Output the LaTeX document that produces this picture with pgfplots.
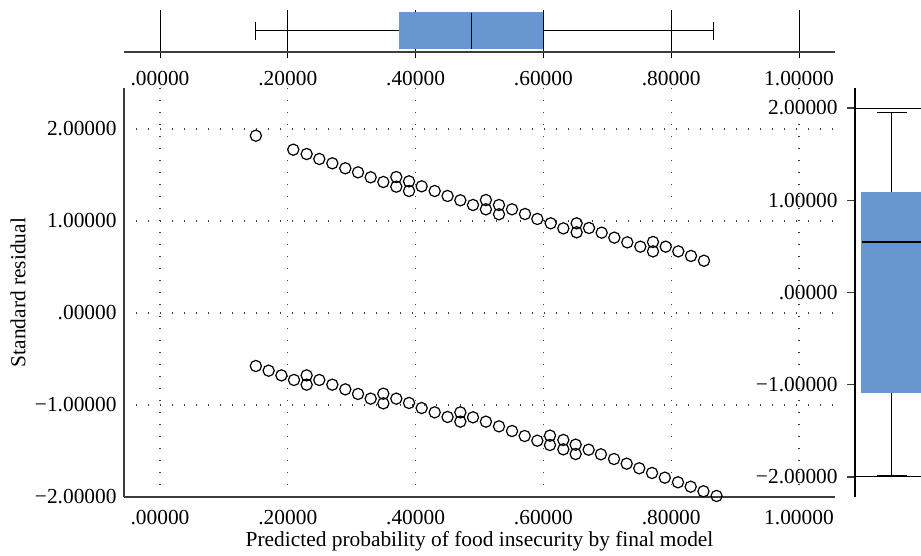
\documentclass[border=0pt]{standalone}
\usepackage{fontspec}
\setmainfont{Liberation Serif}
\usepackage{pgfplots}
\usepackage{pgfplotstable}
\pgfplotsset{compat=1.18}
\usepgfplotslibrary{statistics}
\definecolor{boxblue}{RGB}{104,151,208}
\definecolor{axgray}{RGB}{60,60,60}

\pgfplotstableread{
x y
0.150 1.927
0.2086 1.775
0.2295 1.728
0.2493 1.674
0.2697 1.627
0.290 1.573
0.3099 1.529
0.3297 1.475
0.3495 1.424
0.3698 1.478
0.3698 1.373
0.3897 1.431
0.3897 1.326
0.4095 1.377
0.4299 1.326
0.450 1.272
0.470 1.225
0.4898 1.174
0.510 1.228
0.510 1.127
0.5305 1.174
0.5305 1.073
0.5509 1.127
0.5712 1.076
0.5905 1.022
0.6114 0.975
0.6312 0.920
0.652 0.975
0.652 0.877
0.6714 0.924
0.6912 0.873
0.711 0.819
0.7313 0.768
0.7517 0.721
0.7715 0.772
0.7715 0.670
0.7914 0.721
0.8111 0.670
0.831 0.620
0.8513 0.568
}\upperdata

\pgfplotstableread{
x y
0.150 -0.576
0.170 -0.627
0.190 -0.678
0.2097 -0.728
0.2295 -0.678
0.2295 -0.779
0.2493 -0.728
0.2697 -0.779
0.290 -0.830
0.3099 -0.880
0.3297 -0.931
0.3495 -0.877
0.3495 -0.982
0.3698 -0.931
0.3897 -0.978
0.4095 -1.033
0.4299 -1.080
0.450 -1.130
0.470 -1.080
0.470 -1.181
0.4898 -1.134
0.510 -1.181
0.5305 -1.232
0.5509 -1.283
0.5707 -1.337
0.5905 -1.388
0.6103 -1.333
0.6103 -1.435
0.6312 -1.380
0.6312 -1.482
0.6505 -1.431
0.6505 -1.533
0.6708 -1.486
0.690 -1.536
0.7105 -1.587
0.7303 -1.638
0.750 -1.688
0.770 -1.739
0.790 -1.790
0.8106 -1.840
0.8305 -1.888
0.8505 -1.938
0.871 -1.989
}\lowerdata

\begin{document}
\begin{tikzpicture}[font=\fontsize{10.7}{12.5}\selectfont]
\useasboundingbox (0,0) rectangle (460.5pt,278pt);

% top boxplot of predicted probabilities
\begin{axis}[at={(62pt,252pt)}, anchor=south west, scale only axis,
  width=355.5pt, height=21pt,
  xmin=-0.05634, xmax=1.05634, ymin=0, ymax=1,
  axis x line*=bottom, axis y line=none,
  x axis line style={axgray, line width=0.75pt, -},
  xtick={0,0.2,0.4,0.6,0.8,1.0},
  xticklabels={.00000,.20000,.40000,.60000,.80000,1.00000},
  xmajorgrids, major grid style={black, line width=0.5pt},
  tick align=outside, major tick length=3pt,
  tick style={black, line width=0.5pt},
  xticklabel style={inner sep=0pt, anchor=north, yshift=-6.4pt},
  ytick=\empty, clip=false]
\addplot[black, line width=0.5pt, mark=none,
  boxplot prepared={lower whisker=0.150, lower quartile=0.375, median=0.487,
    upper quartile=0.598, upper whisker=0.866,
    draw position=0.5, box extend=0.857, whisker extend=0.43},
  boxplot/every box/.style={draw=boxblue, fill=boxblue},
  boxplot/every median/.style={draw=black, line width=0.7pt}] coordinates {};
\end{axis}

% main scatter
\begin{axis}[at={(62pt,29.5pt)}, anchor=south west, scale only axis,
  width=355.5pt, height=204.5pt,
  xmin=-0.05634, xmax=1.05634, ymin=-2, ymax=2.4457,
  axis x line*=bottom, axis y line*=left,
  axis line style={axgray, line width=0.65pt, -},
  xtick={0,0.2,0.4,0.6,0.8,1.0},
  xticklabels={.00000,.20000,.40000,.60000,.80000,1.00000},
  ytick={-2,-1,0,1,2},
  yticklabels={−2.00000,−1.00000,.00000,1.00000,2.00000},
  grid=major, major grid style={axgray, line width=0.55pt, dash pattern=on 0.55pt off 5.45pt},
  major tick length=0pt,
  xticklabel style={inner sep=0pt, anchor=north, yshift=-6.3pt},
  yticklabel style={inner sep=0pt, anchor=east, xshift=-3.5pt},
  xlabel={Predicted probability of food insecurity by final model},
  ylabel={Standard residual},
  xlabel style={at={(axis description cs:0.5,-0.1076)}, anchor=center},
  ylabel style={at={(axis description cs:-0.149,0.5)}, anchor=center},
  clip=false]
\addplot[only marks, mark=o, mark size=2.8pt, black, line width=0.6pt] table[x=x,y=y] {\upperdata};
\addplot[only marks, mark=o, mark size=2.8pt, black, line width=0.6pt] table[x=x,y=y] {\lowerdata};
\end{axis}

% right boxplot of residuals
\begin{axis}[at={(427.5pt,29.5pt)}, anchor=south west, scale only axis,
  width=33pt, height=204.5pt,
  xmin=0, xmax=1, ymin=-2.217, ymax=2.217,
  axis y line*=left, axis x line=none,
  y axis line style={black, line width=0.65pt, -},
  ytick={-2,-1,0,1,2},
  yticklabels={−2.00000,−1.00000,.00000,1.00000,2.00000},
  xtick=\empty,
  tick align=outside, major tick length=4pt,
  tick style={axgray, line width=0.65pt},
  yticklabel style={inner sep=0pt, anchor=east, xshift=-4.5pt}]
\draw[black, line width=0.5pt] (axis cs:0,2) -- (axis cs:1,2);
\draw[black, line width=0.5pt] (axis cs:0,-2) -- (axis cs:1,-2);
\addplot[black, line width=0.5pt, mark=none,
  boxplot/draw direction=y,
  boxplot prepared={lower whisker=-1.989, lower quartile=-1.089, median=0.547,
    upper quartile=1.089, upper whisker=1.946,
    draw position=0.56, box extend=0.91, whisker extend=0.455},
  boxplot/every box/.style={draw=boxblue, fill=boxblue},
  boxplot/every median/.style={draw=black, line width=0.7pt}] coordinates {};
\end{axis}
\end{tikzpicture}
\end{document}
